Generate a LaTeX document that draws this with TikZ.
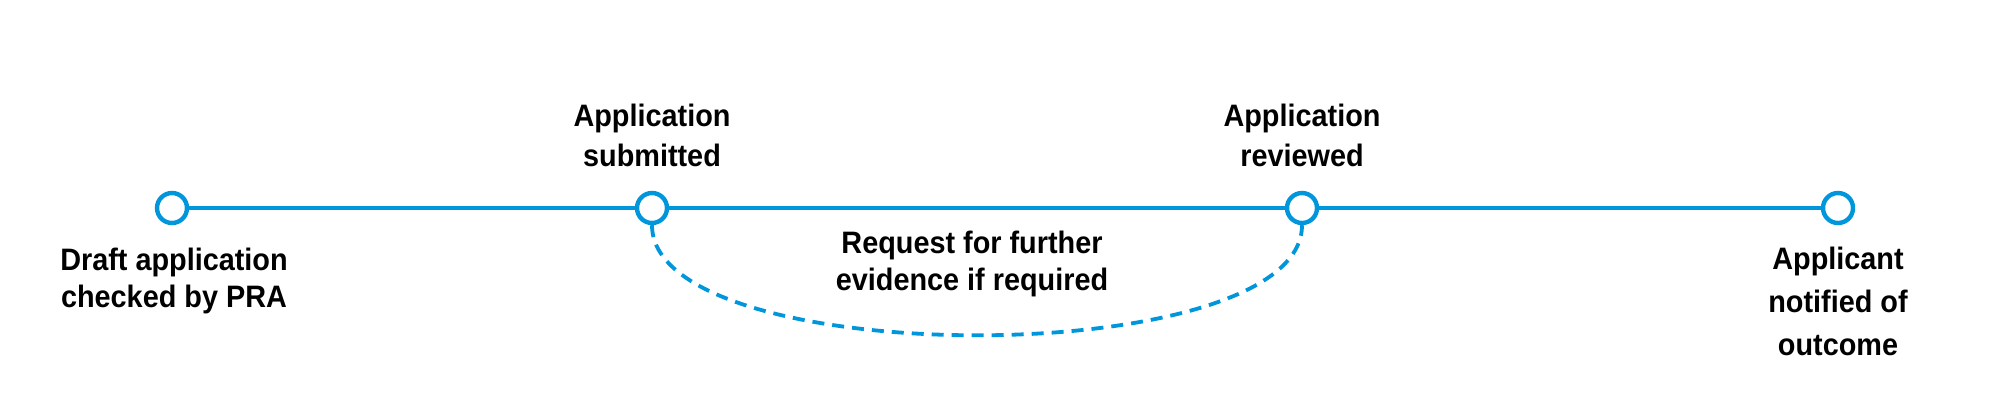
\documentclass[tikz,border=0pt]{standalone}
\usepackage{fontspec}
\newfontfamily\labfont[FakeStretch=0.93]{Liberation Sans}
\definecolor{tlblue}{RGB}{0,150,219}
\begin{document}
\begin{tikzpicture}[x=0.5pt,y=-0.5pt,
  stage/.style={circle,draw=tlblue,line width=2.2pt,fill=white,minimum size=15pt,inner sep=0pt},
  track/.style={draw=tlblue,line width=2.2pt},
  loopline/.style={draw=tlblue,line width=1.9pt,dash pattern=on 6pt off 4pt},
  lab/.style={align=center,inner sep=0pt,anchor=base,font={\labfont\bfseries\fontsize{15.5pt}{18.5pt}\selectfont}}]
\useasboundingbox (0,0) rectangle (2000,419);
\fill[white] (0,0) rectangle (2000,419);
\node[stage] (s1) at (172,208) {};
\node[stage] (s2) at (652,208) {};
\node[stage] (s3) at (1302,208) {};
\node[stage] (s4) at (1838,208) {};
\draw[track] (s1) -- (s2) -- (s3) -- (s4);
\draw[loopline] (s2.south) .. controls (652,372) and (1302,372) .. (s3.south);
\node[lab] (t1) at (174,307) {Draft application\\checked by PRA};
\node[lab,font={\labfont\bfseries\fontsize{15.5pt}{20pt}\selectfont}] (t2) at (652,166) {Application\\submitted};
\node[lab] (t3) at (972,290) {Request for further\\evidence if required};
\node[lab,font={\labfont\bfseries\fontsize{15.5pt}{20pt}\selectfont}] (t4) at (1302,166) {Application\\reviewed};
\node[lab,font={\labfont\bfseries\fontsize{15.5pt}{21.5pt}\selectfont}] (t5) at (1838,355) {Applicant\\notified of\\outcome};
\end{tikzpicture}
\end{document}
